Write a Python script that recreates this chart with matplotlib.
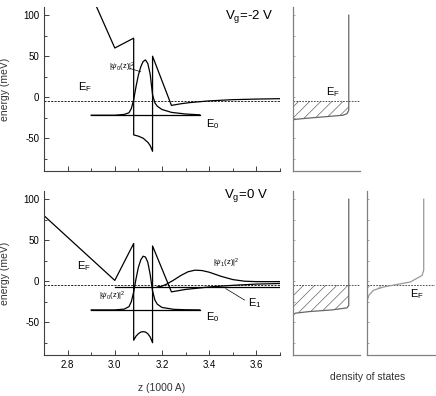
import numpy as np
import matplotlib
matplotlib.use("Agg")
import matplotlib.pyplot as plt
from matplotlib.ticker import MultipleLocator

plt.rcParams['font.family'] = ['Liberation Sans', 'DejaVu Sans']
plt.rcParams['mathtext.fontset'] = 'custom'
plt.rcParams['mathtext.rm'] = 'Liberation Sans'
plt.rcParams['mathtext.it'] = 'Liberation Sans:italic'
plt.rcParams['hatch.linewidth'] = 0.5
plt.rcParams['axes.unicode_minus'] = False

# ---- data (z in 1000 A, energy in meV) ----
E_F = -5.0

# Vg = -2 V
pot_top_z = [2.90, 3.00, 3.08, 3.08, 3.10, 3.12, 3.14, 3.15, 3.16, 3.16, 3.24, 3.28, 3.32, 3.40, 3.50, 3.60, 3.70]
pot_top_E = [125, 60, 72, -46, -47.5, -50, -55, -59, -66, 50, -10, -8, -6.5, -4.5, -3, -2.3, -1.8]
psi0_top_z = [2.90, 3.00, 3.04, 3.06, 3.07, 3.08, 3.09, 3.10, 3.11, 3.12, 3.13, 3.14, 3.15,
              3.16, 3.17, 3.18, 3.20, 3.24, 3.30, 3.36]
psi0_top_E = [-22, -22, -21, -19, -14, -3, 13, 27, 37, 43.5, 45.5, 41, 28, 3, -7, -11, -15, -18.5, -20.5, -21.5]
E0_top = -22.0

# Vg = 0 V
pot_bot_z = [2.70, 3.00, 3.08, 3.08, 3.09, 3.10, 3.11, 3.12, 3.13, 3.14, 3.15, 3.16, 3.16,
             3.24, 3.30, 3.40, 3.50, 3.60, 3.70]
pot_bot_E = [80, 1, 46, -72, -67, -64, -62, -61.5, -62, -64, -68, -75, 43, -13, -10, -7, -5, -3.5, -2.8]
psi0_bot_z = [2.90, 3.00, 3.04, 3.06, 3.07, 3.08, 3.09, 3.10, 3.11, 3.12, 3.13, 3.14, 3.15,
              3.16, 3.17, 3.18, 3.20, 3.25, 3.30, 3.36]
psi0_bot_E = [-35, -35, -34, -31, -25, -13, 3, 17, 26, 30.5, 29.5, 23, 8, -12, -23, -28, -32, -34.3, -34.8, -35]
psi1_bot_z = [3.18, 3.20, 3.22, 3.25, 3.28, 3.31, 3.34, 3.37, 3.40, 3.45, 3.50, 3.55, 3.60, 3.70]
psi1_bot_E = [-7, -6, -3.5, 1.5, 7, 11.5, 13.5, 13, 11, 6, 2, 0, -0.5, -0.5]
E0_bot = -35.0
E1_bot = -7.0

# density of states (x: DOS in units of the 2D step, E in meV)
dos_top_x = [0, 0, 0.05, 0.2, 0.55, 0.9, 0.97, 1.0, 1.0]
dos_top_E = [-90, -28, -27, -26, -24, -22, -20, -16, 100]
dos_bot1_x = [0, 0, 0.05, 0.3, 0.7, 0.97, 1.0, 1.0]
dos_bot1_E = [-90, -41.5, -39, -37, -35, -32.5, -29.5, 100]
dos_bot2_x = [0, 0, 0.03, 0.11, 0.29, 0.52, 0.76, 0.97, 1.0, 1.0]
dos_bot2_E = [-90, -23, -17, -11, -7, -4, -1, 7, 13.5, 100]

fig = plt.figure(figsize=(4.36, 3.96), dpi=100)

def style_main(ax, labels=True):
    ax.set_xlim(2.7, 3.7)
    ax.set_ylim(-90, 110)
    for s in ['top', 'right']:
        ax.spines[s].set_visible(False)
    for s in ['left', 'bottom']:
        ax.spines[s].set_color('0.25')
        ax.spines[s].set_linewidth(0.8)
    ax.xaxis.set_major_locator(MultipleLocator(0.2))
    ax.xaxis.set_minor_locator(MultipleLocator(0.1))
    ax.yaxis.set_major_locator(MultipleLocator(50))
    ax.yaxis.set_minor_locator(MultipleLocator(25))
    ax.tick_params(which='both', direction='in', color='0.25', width=0.7, labelsize=7)
    ax.tick_params(which='major', length=3.5)
    ax.tick_params(which='minor', length=2)
    if not labels:
        ax.tick_params(axis='x', labelbottom=False)
    ax.set_ylabel('energy (meV)', fontsize=7.5, color='0.2')
    ax.yaxis.set_label_coords(-0.145, 0.5)

def style_dos(ax):
    ax.set_xlim(0, 1.2)
    ax.set_ylim(-90, 110)
    for s in ['top', 'right']:
        ax.spines[s].set_visible(False)
    for s in ['left', 'bottom']:
        ax.spines[s].set_color('0.5')
        ax.spines[s].set_linewidth(0.9)
    ax.set_xticks([])
    ax.yaxis.set_major_locator(MultipleLocator(25))
    ax.tick_params(axis='y', direction='in', length=1.5, width=0.5, color='0.5', labelleft=False)
    ax.axhline(E_F, color='0.2', ls=(0, (2, 1.5)), lw=0.6)

def draw_dos(ax, x, E, color, hatch_color):
    x = np.array(x, dtype=float)
    E = np.array(E, dtype=float)
    ax.plot(x, E, color=color, lw=0.9)
    keep = E <= E_F
    Ef_x = np.interp(E_F, E, x)
    Eh = np.append(E[keep], E_F)
    xh = np.append(x[keep], Ef_x)
    ax.fill_betweenx(Eh, 0, xh, facecolor='none', edgecolor=hatch_color, hatch='///', linewidth=0)

lw = 0.9
# ---- top panel: Vg = -2 V ----
ax1 = fig.add_axes([0.1009, 0.5682, 0.5413, 0.4141])
style_main(ax1, labels=False)
ax1.plot(pot_top_z, pot_top_E, color='k', lw=lw)
ax1.plot([psi0_top_z[0], psi0_top_z[-1]], [E0_top, E0_top], color='k', lw=lw)
ax1.plot(psi0_top_z, psi0_top_E, color='k', lw=lw)
ax1.axhline(E_F, color='k', ls=(0, (2.5, 1.5)), lw=0.6)
ax1.text(2.845, 9, r'E$_\mathrm{F}$', fontsize=8)
ax1.text(3.385, -36, r'E$_\mathrm{0}$', fontsize=8)
ax1.text(3.03, 37, r'|$\psi_\mathrm{0}$(z)|$^2$', fontsize=5.5, ha='center', va='center')
ax1.plot([3.065, 3.11], [35, 31], color='k', lw=0.5)
ax1.text(3.57, 98, r'V$_\mathrm{g}$=-2 V', fontsize=9.5, ha='center', va='center')

ax1d = fig.add_axes([0.6709, 0.5682, 0.1548, 0.4141])
style_dos(ax1d)
draw_dos(ax1d, dos_top_x, dos_top_E, '0.4', '0.4')
ax1d.text(0.6, 3, r'E$_\mathrm{F}$', fontsize=8)

# ---- bottom panel: Vg = 0 V ----
ax2 = fig.add_axes([0.1009, 0.1035, 0.5413, 0.4141])
style_main(ax2)
ax2.plot(pot_bot_z, pot_bot_E, color='k', lw=lw)
ax2.plot([psi0_bot_z[0], psi0_bot_z[-1]], [E0_bot, E0_bot], color='k', lw=lw)
ax2.plot(psi0_bot_z, psi0_bot_E, color='k', lw=lw)
ax2.plot([3.0, 3.7], [E1_bot, E1_bot], color='k', lw=lw)
ax2.plot(psi1_bot_z, psi1_bot_E, color='k', lw=lw)
ax2.axhline(E_F, color='k', ls=(0, (2.5, 1.5)), lw=0.6)
ax2.text(2.84, 15, r'E$_\mathrm{F}$', fontsize=8)
ax2.text(3.385, -48, r'E$_\mathrm{0}$', fontsize=8)
ax2.text(3.565, -31, r'E$_\mathrm{1}$', fontsize=8)
ax2.plot([3.47, 3.55], [-9, -23], color='k', lw=0.5)
ax2.text(2.99, -19, r'|$\psi_\mathrm{0}$(z)|$^2$', fontsize=5.5, ha='center', va='center')
ax2.text(3.47, 22, r'|$\psi_\mathrm{1}$(z)|$^2$', fontsize=5.5, ha='center', va='center')
ax2.text(3.555, 104, r'V$_\mathrm{g}$=0 V', fontsize=9.5, ha='center', va='center')

ax2d = fig.add_axes([0.6709, 0.1035, 0.1548, 0.4141])
style_dos(ax2d)
draw_dos(ax2d, dos_bot1_x, dos_bot1_E, '0.4', '0.4')

ax3d = fig.add_axes([0.8424, 0.1035, 0.1553, 0.4141])
style_dos(ax3d)
draw_dos(ax3d, dos_bot2_x, dos_bot2_E, '0.6', '0.55')
ax3d.text(0.75, -20, r'E$_\mathrm{F}$', fontsize=8)

fig.text(162 / 436, 1 - 388 / 396, 'z (1000 A)', fontsize=7.5, ha='center', va='center', color='0.2')
fig.text(368 / 436, 1 - 377 / 396, 'density of states', fontsize=7.5, ha='center', va='center', color='0.2')

fig.savefig('out.png', dpi=100)
